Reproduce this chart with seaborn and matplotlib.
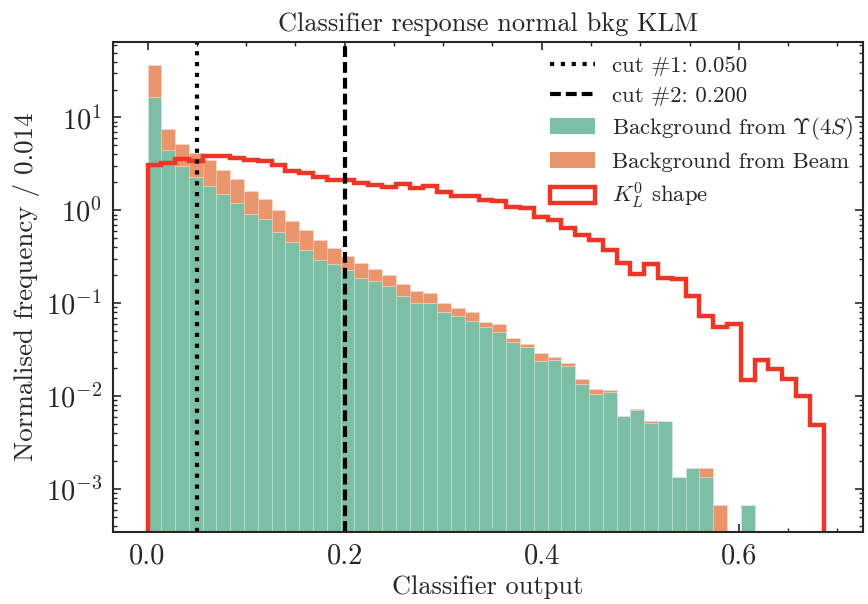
import numpy as np
import pandas as pd
import matplotlib
matplotlib.use("Agg")
import matplotlib.pyplot as plt
from matplotlib.lines import Line2D
from matplotlib.patches import Patch
from matplotlib.ticker import AutoMinorLocator, LogLocator, NullFormatter
import seaborn as sns

# Histogram binning of the classifier output
bin_width = 0.014
n_bins = 50
bin_edges = np.arange(n_bins + 1) * bin_width

# Normalised background from Upsilon(4S) events, per bin
bkg_ups = [
    16.7, 4.5, 3.03, 2.28, 1.81, 1.49, 1.20, 0.906, 0.80, 0.585,
    0.451, 0.377, 0.294, 0.262, 0.228, 0.188, 0.172, 0.152, 0.120, 0.101,
    0.100, 0.081, 0.0735, 0.0643, 0.056, 0.049, 0.0382, 0.0335, 0.0241, 0.0247,
    0.0213, 0.0135, 0.0105, 0.0112, 0.00607, 0.00703, 0.00514, 0.0054, 0.00136, 0.00168,
    0.00135, 0.0, 0.0, 0.00068, 0.0, 0.0, 0.0, 0.0, 0.0, 0.0,
]

# Normalised background from beam, per bin (stacked above Upsilon(4S))
bkg_beam = [
    20.3, 3.07, 2.19, 1.90, 1.64, 1.25, 0.96, 0.724, 0.54, 0.415,
    0.312, 0.237, 0.181, 0.131, 0.097, 0.083, 0.061, 0.048, 0.041, 0.036,
    0.030, 0.020, 0.0162, 0.0161, 0.0074, 0.0103, 0.0037, 0.0032, 0.0050, 0.0017,
    0.0016, 0.0017, 0.0013, 0.0003, 0.0, 0.0003, 0.0003, 0.0, 0.0, 0.0,
    0.00033, 0.00068, 0.0, 0.0, 0.0, 0.0, 0.0, 0.0, 0.0, 0.0,
]

# Normalised K_L^0 signal shape, per bin
kl_shape = [
    3.10, 3.25, 3.55, 3.37, 3.84, 3.84, 3.65, 3.51, 3.37, 3.05,
    2.66, 2.54, 2.28, 2.10, 2.12, 1.95, 1.86, 1.77, 1.93, 1.74,
    1.84, 1.56, 1.42, 1.41, 1.30, 1.25, 1.09, 1.05, 0.847, 0.78,
    0.64, 0.538, 0.475, 0.377, 0.271, 0.205, 0.267, 0.188, 0.181, 0.119,
    0.0725, 0.0557, 0.0593, 0.0148, 0.0243, 0.0197, 0.0151, 0.00994, 0.00493, 0.0,
]

cut_values = [0.050, 0.200]
cut_labels = ["cut #1: 0.050", "cut #2: 0.200"]
label_ups = r"Background from $\Upsilon(4S)$"
label_beam = "Background from Beam"
label_kl = r"$K_L^0$ shape"

col_ups = "#7dbfa5"
col_beam = "#eb956c"
col_kl = "#ee3526"

sns.set_style("ticks")
plt.rcParams.update({
    "font.family": "serif",
    "font.serif": ["cmr10", "DejaVu Serif"],
    "mathtext.fontset": "cm",
    "axes.formatter.use_mathtext": True,
    "axes.unicode_minus": False,
    "font.size": 18,
    "axes.linewidth": 1.5,
    "xtick.direction": "in",
    "ytick.direction": "in",
    "xtick.top": True,
    "ytick.right": True,
    "xtick.major.size": 5.5,
    "ytick.major.size": 5.5,
    "xtick.minor.size": 3,
    "ytick.minor.size": 3,
    "xtick.major.width": 1.2,
    "ytick.major.width": 1.2,
    "xtick.minor.width": 1.0,
    "ytick.minor.width": 1.0,
    "xtick.minor.visible": True,
    "ytick.minor.visible": True,
})

centers = bin_edges[:-1] + bin_width / 2
df = pd.DataFrame({
    "output": np.concatenate([centers, centers]),
    "weight": np.concatenate([bkg_beam, bkg_ups]),
    "source": [label_beam] * n_bins + [label_ups] * n_bins,
})

fig = plt.figure(figsize=(8.68, 6.04), dpi=100)
ax = fig.add_axes([0.1302, 0.1192, 0.8640, 0.8113])
ax.set_yscale("log")

sns.histplot(
    data=df, x="output", weights="weight", hue="source",
    hue_order=[label_beam, label_ups], multiple="stack",
    bins=list(bin_edges), stat="count", element="bars", fill=True,
    palette={label_beam: col_beam, label_ups: col_ups}, alpha=1.0,
    edgecolor=(1, 1, 1, 0.22), linewidth=0.6, legend=False, ax=ax,
)

# K_L^0 shape as an outline histogram
ax.hist(centers, bins=bin_edges, weights=kl_shape, histtype="step",
        color=col_kl, linewidth=3.2)

ax.axvline(cut_values[0], color="black", linestyle=(0, (1.0, 1.6)), linewidth=3.0)
ax.axvline(cut_values[1], color="black", linestyle=(0, (2.6, 1.2)), linewidth=3.0)

ax.set_xlim(-0.035, 0.726)
ax.set_ylim(3.44e-4, 65)
ax.set_xticks([0.0, 0.2, 0.4, 0.6])
ax.set_xticklabels(["0.0", "0.2", "0.4", "0.6"])
ax.xaxis.set_minor_locator(AutoMinorLocator(4))
ax.yaxis.set_major_locator(LogLocator(base=10, numticks=20))
ax.yaxis.set_minor_locator(LogLocator(base=10, subs=np.arange(2, 10) * 1.0, numticks=100))
ax.yaxis.set_minor_formatter(NullFormatter())
ax.tick_params(axis="both", which="major", labelsize=20.5, pad=8)

ax.set_xlabel("Classifier output", fontsize=19)
ax.set_ylabel("Normalised frequency / 0.014", fontsize=19.5)
ax.set_title("Classifier response normal bkg KLM", fontsize=19, pad=8)

handles = [
    Line2D([], [], color="black", linestyle=(0, (1.0, 1.6)), linewidth=3.0),
    Line2D([], [], color="black", linestyle=(0, (2.6, 1.2)), linewidth=3.0),
    Patch(facecolor=col_ups, edgecolor="none"),
    Patch(facecolor=col_beam, edgecolor="none"),
    Patch(facecolor="none", edgecolor=col_kl, linewidth=3.2),
]
labels = cut_labels + [label_ups, label_beam, label_kl]
ax.legend(handles, labels, loc="upper right", bbox_to_anchor=(1.0, 0.992),
          frameon=False, fontsize=16.4, handlelength=1.95, handletextpad=0.75,
          labelspacing=0.42, borderaxespad=0.05)

fig.savefig("out.png", dpi=100)
